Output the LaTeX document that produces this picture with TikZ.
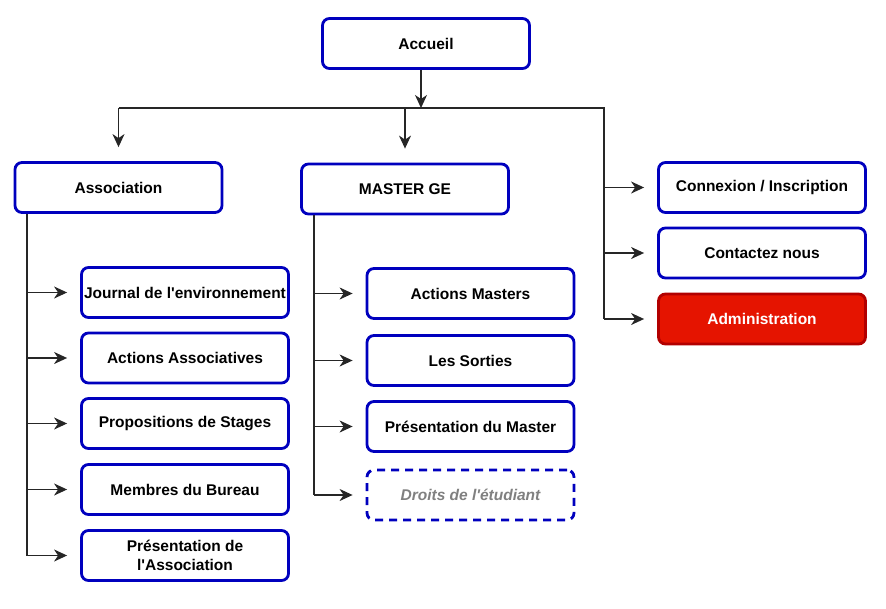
\documentclass[tikz,border=0pt]{standalone}
\usepackage{fontspec}
\setmainfont{Liberation Sans}[Ligatures=TeXOff]
\usetikzlibrary{arrows.meta}

\definecolor{boxblue}{RGB}{0,0,190}
\definecolor{adminred}{RGB}{229,20,0}
\definecolor{adminborder}{RGB}{178,0,0}
\definecolor{ghostgray}{RGB}{128,128,128}

\begin{document}
\begin{tikzpicture}[x=1pt,y=-1pt,
  page/.style={draw=boxblue, line width=2.8pt, rounded corners=7pt, fill=white,
    minimum width=207pt, minimum height=50pt, inner sep=0pt, align=center,
    font=\bfseries\fontsize{15.5}{19}\selectfont},
  admin/.style={page, draw=adminborder, fill=adminred, text=white},
  draft/.style={page, dash pattern=on 8pt off 6pt, text=ghostgray,
    font=\bfseries\itshape\fontsize{15.5}{19}\selectfont},
  link/.style={line width=1.2pt, draw=black!85},
  arrow/.style={link, -{Stealth[length=13pt,width=12pt,inset=4pt]}, shorten >=13pt}]

\useasboundingbox (0,0) rectangle (886,608);

% Trunk positions
\coordinate (split) at (421,108);
\coordinate (rtrunk) at (604,108);
\coordinate (ltrunk) at (27,0);
\coordinate (mtrunk) at (314,0);

% Top level
\node[page] (accueil) at (426,43.5) {Accueil};
\node[page] (assoc) at (118.5,187.5) {Association};
\node[page] (master) at (405,189) {MASTER GE};

% Right column
\node[page] (connexion) at (762,187.5) {Connexion / Inscription};
\node[page] (contact) at (762,253) {Contactez nous};
\node[admin] (admin) at (762,319) {Administration};

% Association pages
\node[page] (journal) at (185,292.5) {Journal de l'environnement};
\node[page] (actasso) at (185,358) {Actions Associatives};
\node[page] (stages) at (185,423.5) {Propositions de Stages};
\node[page] (bureau) at (185,489.5) {Membres du Bureau};
\node[page] (presasso) at (185,555.5) {Présentation de\\l'Association};

% Master pages
\node[page] (actmaster) at (470.5,293.5) {Actions Masters};
\node[page] (sorties) at (470.5,360.5) {Les Sorties};
\node[page] (presmaster) at (470.5,426.5) {Présentation du Master};
\node[draft] (droits) at (470.5,495) {Droits de l'étudiant};

% From Accueil to the split line
\draw[arrow, shorten >=0pt] (accueil.south -| split) -- (split);
\draw[link] (assoc.north |- split) -- (rtrunk) -- (rtrunk |- admin);
\draw[arrow, shorten >=14pt] (assoc.north |- split) -- (assoc.north);
\draw[arrow, shorten >=14pt] (master.north |- split) -- (master.north);

% Right column arrows
\draw[arrow] (rtrunk |- connexion) -- (connexion.west);
\draw[arrow] (rtrunk |- contact) -- (contact.west);
\draw[arrow] (rtrunk |- admin) -- (admin.west);

% Association trunk
\draw[link] (assoc.south -| ltrunk) -- (ltrunk |- presasso);
\foreach \p in {journal, actasso, stages, bureau, presasso}
  \draw[arrow] (ltrunk |- \p) -- (\p.west);

% Master trunk
\draw[link] (master.south -| mtrunk) -- (mtrunk |- droits);
\foreach \p in {actmaster, sorties, presmaster, droits}
  \draw[arrow] (mtrunk |- \p) -- (\p.west);

\end{tikzpicture}
\end{document}
